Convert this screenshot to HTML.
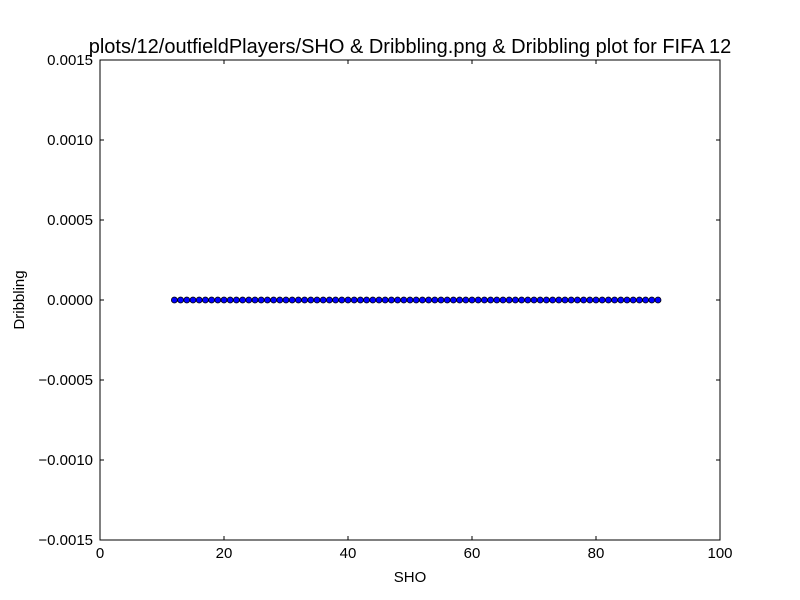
<!DOCTYPE html>
<html><head><meta charset="utf-8"><style>body{margin:0;background:#fff}svg{display:block;font-family:"Liberation Sans",sans-serif}</style></head>
<body>
<svg id="c" width="800" height="600">
<rect width="800" height="600" fill="#fff"/>
<g id="g"></g>
</svg>
<script>
const xValues = [12,13,14,15,16,17,18,19,20,21,22,23,24,25,26,27,28,29,30,31,32,33,34,35,36,37,38,39,40,41,42,43,44,45,46,47,48,49,50,51,52,53,54,55,56,57,58,59,60,61,62,63,64,65,66,67,68,69,70,71,72,73,74,75,76,77,78,79,80,81,82,83,84,85,86,87,88,89,90];
const yValues = xValues.map(()=>0);
const xTicks = [0,20,40,60,80,100];
const yTicks = [-0.0015,-0.0010,-0.0005,0.0000,0.0005,0.0010,0.0015];
const yTickLabels = ["\u22120.0015","\u22120.0010","\u22120.0005","0.0000","0.0005","0.0010","0.0015"];
const L=100,R=720,T=60,B=540;
const sx=v=>L+(v-0)/(100-0)*(R-L);
const sy=v=>B-(v+0.0015)/0.003*(B-T);
const g=document.getElementById('g');
const NS='http://www.w3.org/2000/svg';
function mk(t,a,txt){const e=document.createElementNS(NS,t);for(const k in a)e.setAttribute(k,a[k]);if(txt!=null)e.textContent=txt;g.appendChild(e);return e;}
xValues.forEach((x,i)=>{
 const c=mk('circle',{cx:sx(x),cy:sy(yValues[i]),r:3,fill:'#0000ff',stroke:'#000','stroke-width':0.8});
 
 
});
const f=mk('rect',{x:L,y:T,width:R-L,height:B-T,fill:'none',stroke:'#000','stroke-width':1});


xTicks.forEach(v=>{
 const x=sx(v);
 mk('line',{x1:x,y1:B,x2:x,y2:B-4,stroke:'#000'});
 mk('line',{x1:x,y1:T,x2:x,y2:T+4,stroke:'#000'});
 const t=mk('text',{x:x,y:B+18,'text-anchor':'middle','font-size':15},String(v));
 
 
});
yTicks.forEach((v,i)=>{
 const y=sy(v);
 mk('line',{x1:L,y1:y,x2:L+4,y2:y,stroke:'#000'});
 mk('line',{x1:R,y1:y,x2:R-4,y2:y,stroke:'#000'});
 const t=mk('text',{x:L-7,y:y+5,'text-anchor':'end','font-size':15},yTickLabels[i]);
 
 
});
let t=mk('text',{x:410,y:53,'text-anchor':'middle','font-size':20},'plots/12/outfieldPlayers/SHO & Dribbling.png & Dribbling plot for FIFA 12');


t=mk('text',{x:410,y:582,'text-anchor':'middle','font-size':15},'SHO');


t=mk('text',{x:24,y:300,'text-anchor':'middle','font-size':15,transform:'rotate(-90 24 300)'},'Dribbling');


</script>
</body></html>
